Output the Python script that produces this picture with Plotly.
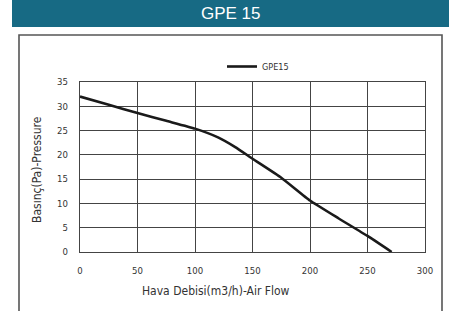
import plotly.graph_objects as go

# Data
flow = [0, 25, 50, 75, 100, 120, 135, 150, 175, 200, 225, 250, 271]
pressure = [32.0, 30.3, 28.6, 27.0, 25.4, 23.6, 21.6, 19.2, 15.3, 10.6, 6.9, 3.3, 0.0]
series_name = "GPE15"
chart_title = "GPE 15"
x_title = "Hava Debisi(m3/h)-Air Flow"
y_title = "Basınç(Pa)-Pressure"
x_ticks = [0, 50, 100, 150, 200, 250, 300]
y_ticks = [0, 5, 10, 15, 20, 25, 30, 35]

W, H = 454, 311
L, R, T, B = 80, 29, 82, 59
pw, ph = W - L - R, H - T - B


def px(xp):
    return (xp - L) / pw


def py(yp):
    return (H - B - yp) / ph


narrow = "DejaVu Sans Condensed, Liberation Sans Narrow, sans-serif"

fig = go.Figure()
fig.add_trace(go.Scatter(
    x=flow, y=pressure, mode="lines", name=series_name,
    line=dict(color="#1a1a1a", width=2.6, shape="spline", smoothing=0.4),
))

fig.update_layout(
    width=W, height=H,
    margin=dict(l=L, r=R, t=T, b=B, autoexpand=False),
    paper_bgcolor="white", plot_bgcolor="white",
    showlegend=True,
    legend=dict(
        x=px(222), y=py(52), xanchor="left", yanchor="top",
        orientation="h", bgcolor="rgba(0,0,0,0)",
        font=dict(family=narrow, size=9, color="#333"),
        itemwidth=30,
    ),
    xaxis=dict(
        range=[0, 300], tickvals=x_ticks, ticktext=[str(v) for v in x_ticks],
        showgrid=True, gridcolor="#444", gridwidth=1.3,
        showline=True, linecolor="#444", linewidth=1.3, mirror=True,
        zeroline=False, ticks="", ticklen=0, ticklabelstandoff=9,
        tickfont=dict(family=narrow, size=9.5, color="#333"),
        fixedrange=True,
    ),
    yaxis=dict(
        range=[0, 35], tickvals=y_ticks, ticktext=[str(v) for v in y_ticks],
        showgrid=True, gridcolor="#444", gridwidth=1.3,
        showline=True, linecolor="#444", linewidth=1.3, mirror=True,
        zeroline=False, ticks="", ticklen=0, ticklabelstandoff=9,
        tickfont=dict(family=narrow, size=9.5, color="#333"),
        fixedrange=True,
    ),
)

# title bar
fig.add_shape(type="rect", xref="paper", yref="paper",
              x0=px(12), x1=px(449), y0=py(27), y1=py(-2),
              fillcolor="#176a84", line=dict(width=0), layer="below")
# outer frame
fig.add_shape(type="rect", xref="paper", yref="paper",
              x0=px(19), x1=px(442), y0=py(320), y1=py(35),
              fillcolor="rgba(0,0,0,0)", line=dict(color="#555", width=1.6))

fig.add_annotation(text=chart_title, xref="paper", yref="paper",
                   x=px(231), y=py(13.5), xanchor="center", yanchor="middle",
                   showarrow=False,
                   font=dict(family="Liberation Sans, Arial, sans-serif", size=17, color="white"))
fig.add_annotation(text=x_title, xref="paper", yref="paper",
                   x=px(216), y=py(291), xanchor="center", yanchor="middle",
                   showarrow=False,
                   font=dict(family=narrow, size=12, color="#333"))
fig.add_annotation(text=y_title, xref="paper", yref="paper",
                   x=px(37), y=py(170), xanchor="center", yanchor="middle",
                   showarrow=False, textangle=-90,
                   font=dict(family=narrow, size=12, color="#333"))

fig.write_html("out.html", post_script="document.body.style.margin='0';",
               config={"displayModeBar": False})
